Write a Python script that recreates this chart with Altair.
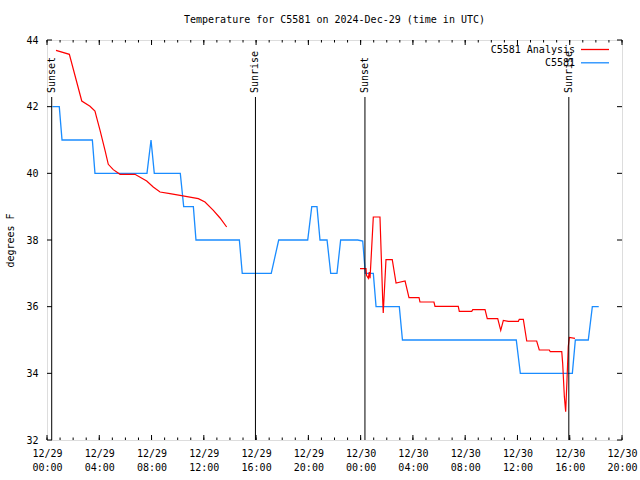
import altair as alt
import pandas as pd

FONT = "DejaVu Sans Mono"
BLUE = "#1a8cff"
RED = "#ff0000"

# Observations (hours since 12/29 00:00 UTC, degrees F)
obs_hours = [0.41, 0.94, 1.15, 3.47, 3.67, 7.65, 7.96, 8.21, 10.20, 10.46, 11.20, 11.40,
             14.72, 14.94, 17.16, 17.73, 19.95, 20.26, 20.66, 20.89, 21.43, 21.71, 22.19,
             22.47, 23.78, 24.16, 24.36, 24.97, 25.18, 26.96, 27.20, 35.91, 36.22, 40.20,
             40.43, 41.42, 41.73, 42.22]
obs_temp = [42, 42, 41, 41, 40, 40, 41, 40, 40, 39, 39, 38,
            38, 37, 37, 38, 38, 39, 39, 38, 38, 37, 37,
            38, 38, 37.97, 37, 37, 36, 36, 35, 35, 34, 34,
            35, 35, 36, 36]

# Analysis, first segment
an1_hours = [0.69, 1.71, 2.66, 3.29, 3.67, 3.80, 4.06, 4.44, 4.69, 5.07, 5.59, 6.73,
             7.63, 8.13, 8.65, 9.41, 10.18, 11.58, 12.09, 12.73, 13.24, 13.75]
an1_temp = [43.69, 43.57, 42.17, 42.01, 41.87, 41.67, 41.29, 40.69, 40.27, 40.11, 39.97, 39.97,
            39.77, 39.59, 39.44, 39.39, 39.34, 39.24, 39.14, 38.89, 38.66, 38.39]

# Analysis, second segment
an2_hours = [23.95, 24.41, 24.45, 24.59, 24.66, 24.72, 24.97, 25.48, 25.69, 25.73, 25.94,
             26.42, 26.71, 27.40, 27.70, 28.47, 28.54, 29.61, 29.69, 31.47, 31.55, 32.50,
             32.58, 33.52, 33.69, 34.49, 34.72, 34.92, 35.30, 36.07, 36.14, 36.45, 36.71,
             37.47, 37.67, 38.44, 38.51, 39.39, 39.46, 39.59, 39.69, 39.79, 39.89, 39.97, 40.40]
an2_temp = [37.14, 37.14, 36.94, 36.85, 37.04, 36.85, 38.69, 38.69, 36.19, 35.81, 37.41,
            37.41, 36.71, 36.77, 36.27, 36.27, 36.14, 36.14, 36.01, 36.01, 35.86, 35.86,
            35.91, 35.91, 35.64, 35.64, 35.29, 35.59, 35.56, 35.56, 35.62, 35.62, 34.97,
            34.97, 34.70, 34.70, 34.65, 34.65, 34.30, 33.30, 32.85, 33.80, 34.80, 35.08, 35.05]

event_hours = [0.36, 15.95, 24.33, 39.93]
event_names = ["Sunset", "Sunrise", "Sunset", "Sunrise"]

x_major = list(range(0, 45, 4))
x_minor = list(range(0, 45))
y_ticks = list(range(32, 45, 2))

series_names = ["C5581 Analysis", "C5581"]

W, H = 575, 400

obs_df = pd.DataFrame({"h": obs_hours, "t": obs_temp})
an_df = pd.DataFrame({
    "h": an1_hours + an2_hours,
    "t": an1_temp + an2_temp,
    "seg": [1] * len(an1_hours) + [2] * len(an2_hours),
})
ev_df = pd.DataFrame({"h": event_hours, "name": event_names})
xmaj_df = pd.DataFrame({"h": x_major})
xmin_df = pd.DataFrame({"h": x_minor})
yt_df = pd.DataFrame({"t": y_ticks})

xscale = alt.Scale(domain=[0, 44], nice=False, zero=False)
yscale = alt.Scale(domain=[32, 44], nice=False, zero=False)

xaxis = alt.Axis(
    values=x_major,
    labelExpr="['12/' + (29 + floor(datum.value / 24)), ((datum.value % 24) < 10 ? '0' : '') + (datum.value % 24) + ':00']",
    ticks=False, grid=False, domain=False,
    labelFont=FONT, labelFontSize=10, labelColor="black",
    labelPadding=8, labelLineHeight=14, labelFlush=False, labelOverlap=False,
    title=None,
)
yaxis = alt.Axis(
    values=y_ticks, ticks=False, grid=False, domain=False,
    labelFont=FONT, labelFontSize=10, labelColor="black", labelPadding=9,
    title="degrees F", titleFont=FONT, titleFontSize=10, titleFontWeight="normal",
    titleColor="black", titlePadding=10,
)

X = lambda: alt.X("h:Q", scale=xscale, axis=xaxis)
Y = lambda: alt.Y("t:Q", scale=yscale, axis=yaxis)

obs_line = alt.Chart(obs_df).mark_line(color=BLUE, strokeWidth=1.3).encode(x=X(), y=Y())

an_line = alt.Chart(an_df).mark_line(color=RED, strokeWidth=1.2).encode(
    x=X(), y=Y(), detail="seg:N",
)

ev_rule = alt.Chart(ev_df).mark_rule(color="black", strokeWidth=1).encode(
    x=X(), y=alt.value(57), y2=alt.value(H),
)
ev_text = alt.Chart(ev_df).mark_text(
    angle=270, align="left", baseline="middle", font=FONT, fontSize=10, color="black"
).encode(
    x=X(), y=alt.value(53), text="name:N",
)

def xticks(df, length, top):
    if top:
        ys = dict(y=alt.value(0), y2=alt.value(length))
    else:
        ys = dict(y=alt.value(H - length), y2=alt.value(H))
    return alt.Chart(df).mark_rule(color="black", strokeWidth=1).encode(x=X(), **ys)

def yticks(df, length, left):
    if left:
        xs = dict(x=alt.value(0), x2=alt.value(length))
    else:
        xs = dict(x=alt.value(W - length), x2=alt.value(W))
    return alt.Chart(df).mark_rule(color="black", strokeWidth=1).encode(y=Y(), **xs)

tick_layers = [
    xticks(xmin_df, 2.5, True), xticks(xmin_df, 2.5, False),
    xticks(xmaj_df, 5, True), xticks(xmaj_df, 5, False),
    yticks(yt_df, 5, True), yticks(yt_df, 5, False),
]

one = pd.DataFrame({"k": [0]})
leg_layers = []
for i, (name, col) in enumerate(zip(series_names, [RED, BLUE])):
    yy = 9.5 + i * 13.3
    leg_layers.append(
        alt.Chart(one).mark_text(align="right", baseline="middle", font=FONT,
                                 fontSize=10, color="black").encode(
            x=alt.value(528), y=alt.value(yy), text=alt.value(name))
    )
    leg_layers.append(
        alt.Chart(one).mark_rule(color=col, strokeWidth=1.3).encode(
            x=alt.value(534), x2=alt.value(562), y=alt.value(yy))
    )

chart = alt.layer(obs_line, an_line, ev_rule, ev_text, *tick_layers, *leg_layers).properties(
    width=W, height=H,
    title=alt.TitleParams(
        "Temperature for C5581 on 2024-Dec-29 (time in UTC)",
        font=FONT, fontSize=10, fontWeight="normal", color="black",
        anchor="middle", offset=10,
    ),
    autosize=alt.AutoSizeParams(type="none"),
    padding={"left": 47, "top": 40, "right": 18, "bottom": 40},
).configure_view(stroke="black", strokeWidth=1).configure(background="white")

chart.save("out.html", embed_options={"renderer": "svg", "actions": False})
